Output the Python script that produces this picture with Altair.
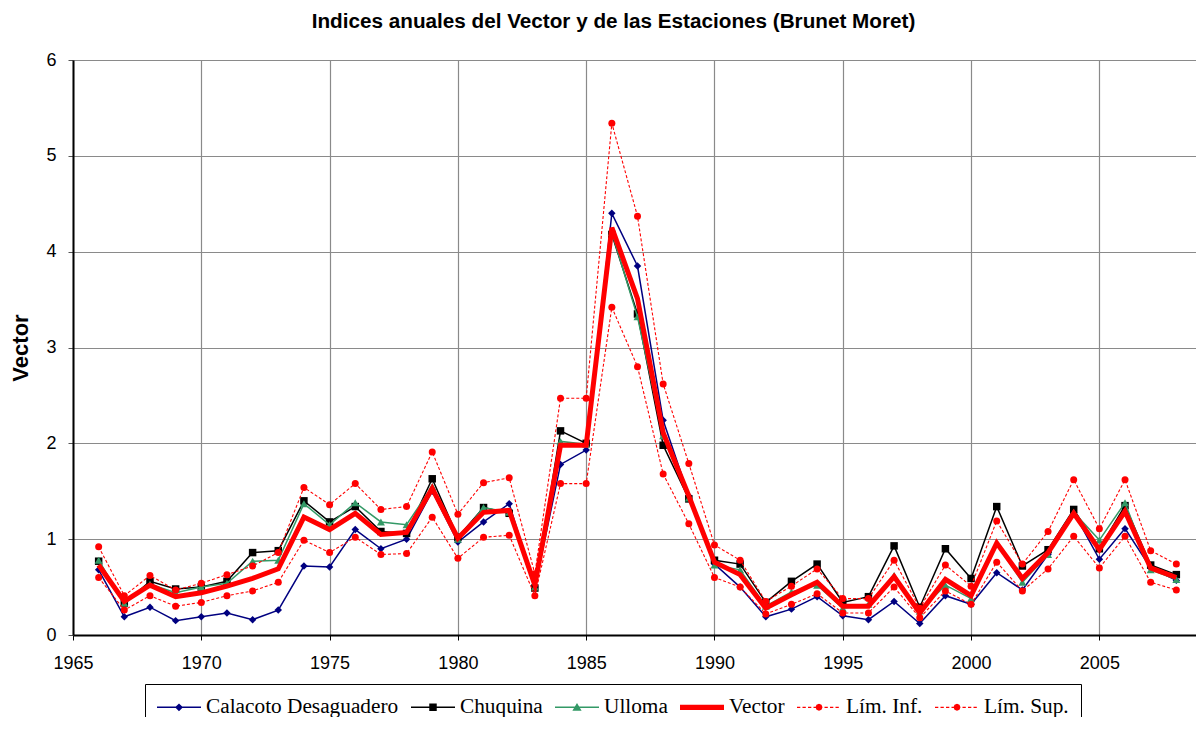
import altair as alt
import pandas as pd
import numpy as np

years = list(range(1966, 2009))

calacoto = [0.68, 0.19, 0.29, 0.15, 0.19, 0.23, 0.16, 0.26, 0.72, 0.71,
            1.10, 0.90, 1.00, 1.50, 0.97, 1.18, 1.37, 0.50, 1.78, 1.93,
            4.40, 3.85, 2.24, 1.45, 0.74, 0.50, 0.19, 0.27, 0.40, 0.20,
            0.16, 0.35, 0.12, 0.41, 0.32, 0.65, 0.47, 0.84, 1.28, 0.79,
            1.11, 0.70, 0.57]
chuquina = [0.77, 0.33, 0.56, 0.48, 0.50, 0.56, 0.86, 0.88, 1.40, 1.18,
            1.34, 1.08, 1.06, 1.63, 1.02, 1.33, 1.27, 0.49, 2.13, 2.00,
            4.18, 3.35, 1.98, 1.42, 0.78, 0.74, 0.34, 0.56, 0.74, 0.34,
            0.40, 0.93, 0.29, 0.90, 0.59, 1.34, 0.72, 0.89, 1.31, 0.90,
            1.35, 0.73, 0.63]
ulloma = [0.78, 0.33, 0.53, 0.44, 0.50, 0.54, 0.77, 0.78, 1.37, 1.15,
          1.38, 1.18, 1.15, 1.55, 1.00, 1.33, 1.28, 0.50, 2.02, 1.99,
          4.20, 3.32, 2.08, 1.43, 0.73, 0.68, 0.30, 0.45, 0.52, 0.28,
          0.32, 0.62, 0.25, 0.52, 0.38, 0.95, 0.55, 0.84, 1.28, 0.99,
          1.38, 0.68, 0.58]
vector = [0.73, 0.35, 0.52, 0.40, 0.44, 0.51, 0.59, 0.69, 1.23, 1.10,
          1.27, 1.05, 1.07, 1.53, 1.01, 1.28, 1.30, 0.52, 1.98, 1.98,
          4.25, 3.51, 2.11, 1.45, 0.76, 0.63, 0.28, 0.42, 0.55, 0.30,
          0.30, 0.61, 0.23, 0.58, 0.41, 0.96, 0.59, 0.86, 1.27, 0.89,
          1.29, 0.70, 0.60]
lim_inf = [0.60, 0.26, 0.41, 0.30, 0.34, 0.41, 0.46, 0.55, 0.99, 0.86,
           1.02, 0.84, 0.85, 1.23, 0.80, 1.02, 1.04, 0.41, 1.58, 1.58,
           3.42, 2.80, 1.68, 1.16, 0.60, 0.50, 0.22, 0.32, 0.43, 0.23,
           0.23, 0.50, 0.18, 0.46, 0.32, 0.76, 0.46, 0.69, 1.03, 0.70,
           1.03, 0.55, 0.47]
lim_sup = [0.92, 0.41, 0.62, 0.47, 0.54, 0.63, 0.72, 0.86, 1.54, 1.36,
           1.58, 1.31, 1.34, 1.91, 1.26, 1.59, 1.64, 0.64, 2.47, 2.47,
           5.34, 4.37, 2.62, 1.79, 0.94, 0.78, 0.35, 0.51, 0.69, 0.38,
           0.38, 0.78, 0.28, 0.73, 0.51, 1.19, 0.74, 1.08, 1.62, 1.11,
           1.62, 0.88, 0.74]

names = ["Calacoto Desaguadero", "Chuquina", "Ulloma", "Vector", "Lím. Inf.", "Lím. Sup."]
series_values = [calacoto, chuquina, ulloma, vector, lim_inf, lim_sup]
x_ticks = [1965, 1970, 1975, 1980, 1985, 1990, 1995, 2000, 2005]
y_ticks = [0, 1, 2, 3, 4, 5, 6]

rows = []
for name, vals in zip(names, series_values):
    for yr, v in zip(years, vals):
        rows.append({"year": yr, "value": v, "series": name})
df = pd.DataFrame(rows)

# styles
colors = ["#000080", "#000000", "#339966", "#FF0000", "#FF0000", "#FF0000"]
widths = [1.5, 1.5, 1.5, 5, 1.1, 1.1]
dashes = [None, None, None, None, [3, 2], [3, 2]]
shapes = ["diamond", "square", "triangle-up", None, "circle", "circle"]
psizes = [56, 56, 64, 0, 49, 49]


# legend symbol paths (line + marker), unit = 11px
def rect(x0, x1, h):
    return f"M{x0:.3f},{-h:.3f}L{x1:.3f},{-h:.3f}L{x1:.3f},{h:.3f}L{x0:.3f},{h:.3f}Z"


def octagon(cx, r):
    pts = [(cx + r * np.cos(np.pi / 4 * k), r * np.sin(np.pi / 4 * k)) for k in range(8)]
    return "M" + "L".join(f"{px:.3f},{py:.3f}" for px, py in pts) + "Z"


line_thin = rect(-1, 3, 0.07)
p_cal = line_thin + "M1,-0.36L1.36,0L1,0.36L0.64,0Z"
p_chu = line_thin + "M0.66,-0.34L1.34,-0.34L1.34,0.34L0.66,0.34Z"
p_ull = line_thin + "M1,-0.4L1.42,0.32L0.58,0.32Z"
p_vec = rect(-1, 3, 0.23)
dash_path = "".join(rect(-1 + 0.5 * k, -1 + 0.5 * k + 0.3, 0.05) for k in range(8))
p_lim = dash_path + octagon(1, 0.32)
paths = [p_cal, p_chu, p_ull, p_vec, p_lim, p_lim]

x_scale = alt.Scale(domain=[1965, 2009], nice=False, zero=False)
y_scale = alt.Scale(domain=[0, 6], nice=False)

x_axis = alt.Axis(values=x_ticks, format="d", title=None, labelFlush=False,
                  labelFontSize=18, labelFont="Liberation Sans", labelColor="black",
                  labelPadding=14, tickSize=5, tickColor="black",
                  domainColor="black", domainWidth=2,
                  grid=True, gridColor="#8a8a8a", gridWidth=1.2)
y_axis = alt.Axis(values=y_ticks, title="Vector", labelFlush=False,
                  labelFontSize=18, labelFont="Liberation Sans", labelColor="black",
                  labelPadding=12, tickSize=5, tickColor="#555555",
                  domainColor="black", domainWidth=2,
                  grid=True, gridColor="#8a8a8a", gridWidth=1.2,
                  titleFont="Liberation Sans", titleFontSize=22, titleFontWeight="bold",
                  titleColor="black", titleAngle=270, titleX=-53, titleY=287.5,
                  titleAlign="center", titleBaseline="middle")

base = alt.Chart(df)
layers = []
for i, name in enumerate(names):
    sub = base.transform_filter(alt.datum.series == name)
    lkw = dict(color=colors[i], strokeWidth=widths[i])
    if dashes[i]:
        lkw["strokeDash"] = dashes[i]
    enc = dict(x=alt.X("year:Q", scale=x_scale, axis=x_axis),
               y=alt.Y("value:Q", scale=y_scale, axis=y_axis))
    layers.append(sub.mark_line(**lkw).encode(**enc))
    if shapes[i]:
        layers.append(sub.mark_point(filled=True, shape=shapes[i], size=psizes[i],
                                     color=colors[i], opacity=1, strokeWidth=0).encode(**enc))

legend = alt.Legend(title=None, orient="none", legendX=72, legendY=624,
                    direction="horizontal", columns=6, gridAlign="each",
                    symbolSize=484, symbolStrokeWidth=0, symbolOpacity=1,
                    labelFont="Liberation Serif", labelFontSize=21.3, labelColor="black",
                    labelOffset=27, labelLimit=500, columnPadding=12, padding=12,
                    strokeColor="black", fillColor="white")

legend_layer = base.transform_filter("false").mark_point(filled=True, opacity=1, size=484).encode(
    color=alt.Color("series:N", scale=alt.Scale(domain=names, range=colors), legend=legend),
    shape=alt.Shape("series:N", scale=alt.Scale(domain=names, range=paths), legend=legend),
)

chart = alt.layer(*layers, legend_layer).properties(
    width=1129, height=575,
    title=alt.TitleParams("Indices anuales del Vector y de las Estaciones (Brunet Moret)",
                          font="Liberation Sans", fontSize=20.7, fontWeight="bold",
                          color="black", anchor="middle", dx=-24, offset=18),
    autosize=alt.AutoSizeParams(type="none"),
    padding={"left": 65, "top": 52, "right": -6, "bottom": 82},
).configure_view(stroke="black", strokeWidth=1).configure(background="white")

chart.save("out.html", embed_options={"renderer": "svg", "actions": False})
